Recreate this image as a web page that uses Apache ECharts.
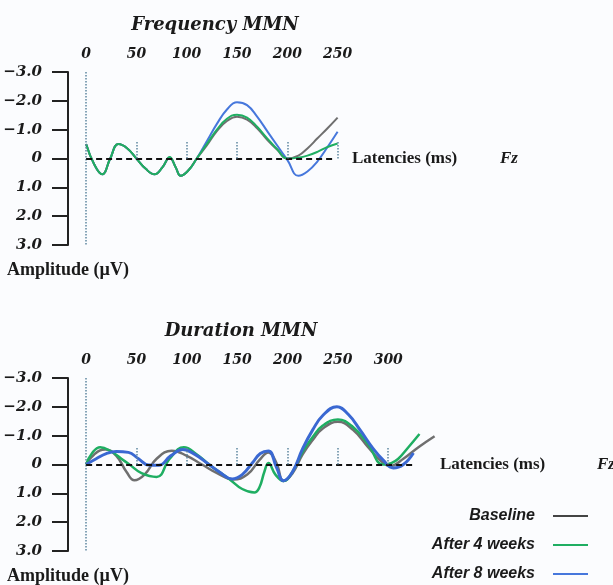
<!DOCTYPE html>
<html>
<head>
<meta charset="utf-8">
<script src="https://cdn.jsdelivr.net/npm/echarts@6/dist/echarts.min.js"></script>
<style>
  html, body { margin: 0; padding: 0; background: #fbfcfe; }
  #chart { width: 613px; height: 585px; }
</style>
</head>
<body>
<div id="chart"></div>
<script>
// 数据：振幅 (µV)，负值朝上
var seriesNames = ["Baseline", "After 4 weeks", "After 8 weeks"];
var freqLabels = [0, 50, 100, 150, 200, 250];
var durLabels = [0, 50, 100, 150, 200, 250, 300];
var tickTimesFreq = [50, 100, 150, 200, 250];
var tickTimesDur = [50, 100, 150, 200, 250, 300];

// Frequency MMN
var freqTimes = [0, 8, 16, 24, 32, 41, 50, 59, 68, 76, 83, 89, 94, 102, 110, 120, 130, 140, 150, 160, 170, 180, 190, 200, 211, 220, 230, 240, 250];
var freqBase  = [-0.5, 0.2, 0.55, 0.0, -0.5, -0.35, 0.0, 0.35, 0.55, 0.3, -0.03, 0.3, 0.6, 0.4, 0.0, -0.45, -0.95, -1.3, -1.45, -1.35, -1.05, -0.65, -0.3, 0.0, -0.1, -0.35, -0.7, -1.05, -1.42];
var freqW4    = [-0.5, 0.2, 0.55, 0.0, -0.5, -0.35, 0.0, 0.35, 0.55, 0.3, -0.05, 0.3, 0.6, 0.4, 0.0, -0.5, -1.0, -1.38, -1.52, -1.42, -1.1, -0.7, -0.32, 0.0, -0.03, -0.1, -0.23, -0.4, -0.52];
var freqW8    = [-0.5, 0.2, 0.55, 0.0, -0.5, -0.35, 0.0, 0.35, 0.55, 0.3, -0.03, 0.3, 0.6, 0.4, 0.0, -0.6, -1.2, -1.7, -1.95, -1.85, -1.45, -0.95, -0.45, 0.05, 0.6, 0.45, 0.1, -0.4, -0.93];

// Duration MMN
var durBaseT = [0, 8, 19, 30, 40, 48, 58, 70, 85, 100, 115, 130, 146, 160, 172, 181, 189, 196, 205, 215, 225, 235, 250, 265, 280, 292, 302, 315, 330, 346];
var durBaseV = [0, -0.35, -0.52, -0.3, 0.25, 0.55, 0.35, -0.2, -0.48, -0.3, 0.0, 0.3, 0.52, 0.35, -0.15, -0.42, -0.05, 0.57, 0.3, -0.35, -0.85, -1.25, -1.48, -1.2, -0.6, -0.15, 0.05, -0.2, -0.6, -0.98];
var durW4T = [0, 6, 14, 25, 35, 43, 55, 70, 83, 97, 110, 122, 142, 155, 167, 172, 177, 181, 188, 196, 205, 215, 225, 235, 250, 265, 280, 295, 303, 310, 320, 331];
var durW4V = [0, -0.4, -0.6, -0.45, -0.2, 0.0, 0.3, 0.43, -0.2, -0.6, -0.35, 0.0, 0.5, 0.85, 0.97, 0.8, 0.25, -0.05, 0.35, 0.57, 0.25, -0.45, -0.95, -1.35, -1.56, -1.3, -0.7, 0.0, -0.05, -0.2, -0.6, -1.06];
var durW8T = [0, 10, 20, 30, 42, 52, 62, 72, 84, 96, 108, 122, 132, 145, 155, 165, 173, 181, 189, 196, 205, 215, 225, 235, 249, 260, 272, 285, 295, 305, 315, 325];
var durW8V = [0, -0.2, -0.38, -0.45, -0.42, -0.2, 0.02, 0.03, -0.3, -0.52, -0.35, 0.0, 0.25, 0.5, 0.35, -0.05, -0.38, -0.47, 0.1, 0.56, 0.25, -0.55, -1.2, -1.7, -2.0, -1.75, -1.2, -0.55, -0.15, 0.12, 0.0, -0.4];

var colors = ["#6f6f6f", "#1fae62", "#4677dc"];
var legendColors = ["#444444", "#1fae62", "#4677dc"];
var serif = "Liberation Serif";
var wide = "DejaVu Serif";
var ink = "#1a1a1a";

function pairs(t, v) {
  return t.map(function (x, i) { return [x, v[i]]; });
}

function refLines(zeroEnd, ticks) {
  var data = [
    { xAxis: 0, lineStyle: { color: "#5f86a0", type: "dotted", width: 1.5 } },
    [
      { coord: [0, 0], lineStyle: { color: "#111", type: [6, 4], width: 2 } },
      { coord: [zeroEnd, 0] }
    ]
  ];
  ticks.forEach(function (t) {
    data.push([
      { coord: [t, 0], lineStyle: { color: "#5f86a0", type: "dotted", width: 1.5 } },
      { coord: [t, -0.6] }
    ]);
  });
  return { silent: true, symbol: ["none", "none"], label: { show: false }, data: data };
}

function xAxisCfg(idx, max, labels) {
  return {
    type: "value", gridIndex: idx, position: "top", min: -18, max: max,
    axisLine: { show: false, onZero: false }, axisTick: { show: false }, splitLine: { show: false },
    axisLabel: {
      customValues: labels, margin: 11, color: ink, fontFamily: wide,
      fontStyle: "italic", fontWeight: "bold", fontSize: 14
    }
  };
}

function yAxisCfg(idx) {
  return {
    type: "value", gridIndex: idx, min: -3, max: 3, interval: 1, inverse: true,
    name: "Amplitude (µV)", nameLocation: "end", nameGap: 16,
    nameTextStyle: { color: ink, fontFamily: serif, fontWeight: "bold", fontSize: 18 },
    axisLine: { show: true, onZero: false, lineStyle: { color: "#222", width: 2 } },
    axisTick: { show: true, length: 16, lineStyle: { color: "#222", width: 2 } },
    splitLine: { show: false },
    axisLabel: {
      margin: 26, color: ink, fontFamily: wide, fontStyle: "italic", fontWeight: "bold", fontSize: 15,
      formatter: function (v) { return v === 0 ? "0" : (v < 0 ? "−" : "") + Math.abs(v).toFixed(1); }
    }
  };
}

function lineSeries(name, idx, data, color, width, z, markLine) {
  var s = {
    name: name, type: "line", xAxisIndex: idx, yAxisIndex: idx, data: data,
    smooth: 0.45, showSymbol: false, symbol: "none", z: z,
    lineStyle: { color: color, width: width }, itemStyle: { color: color }
  };
  if (markLine) s.markLine = markLine;
  return s;
}

var myChart = echarts.init(document.getElementById("chart"));

var option = {
  backgroundColor: "#fbfcfe",
  animation: false,
  title: [
    { text: "Frequency MMN", left: 210, top: 11, textAlign: "center",
      textStyle: { fontFamily: wide, fontStyle: "italic", fontWeight: "bold", fontSize: 18, color: ink } },
    { text: "Duration MMN", left: 236, top: 317, textAlign: "center",
      textStyle: { fontFamily: wide, fontStyle: "italic", fontWeight: "bold", fontSize: 18, color: ink } }
  ],
  legend: {
    data: seriesNames.map(function (n, i) { return { name: n, itemStyle: { color: legendColors[i] } }; }),
    orient: "vertical", align: "right", right: 25, top: 508, padding: 0,
    itemWidth: 35, itemHeight: 2, itemGap: 13, icon: "rect",
    textStyle: { fontFamily: "Liberation Sans", fontStyle: "italic", fontWeight: "bold", fontSize: 16, color: ink, lineHeight: 16, padding: [0, 13, 0, 0] }
  },
  grid: [
    { left: 68, top: 72, width: 269.6, height: 173 },
    { left: 68, top: 378, width: 370.6, height: 173 }
  ],
  xAxis: [xAxisCfg(0, 250, freqLabels), xAxisCfg(1, 350, durLabels)],
  yAxis: [yAxisCfg(0), yAxisCfg(1)],
  graphic: [
    { type: "text", left: 352, top: 150, style: { text: "Latencies (ms)", font: "bold 17px Liberation Serif", fill: ink } },
    { type: "text", left: 500, top: 150, style: { text: "Fz", font: "italic bold 17px Liberation Serif", fill: ink } },
    { type: "text", left: 440, top: 456, style: { text: "Latencies (ms)", font: "bold 17px Liberation Serif", fill: ink } },
    { type: "text", left: 597, top: 456, style: { text: "Fz", font: "italic bold 17px Liberation Serif", fill: ink } }
  ],
  series: [
    lineSeries(seriesNames[2], 0, pairs(freqTimes, freqW8), colors[2], 2, 2),
    lineSeries(seriesNames[0], 0, pairs(freqTimes, freqBase), colors[0], 2, 3, refLines(245, tickTimesFreq)),
    lineSeries(seriesNames[1], 0, pairs(freqTimes, freqW4), colors[1], 2, 4),
    lineSeries(seriesNames[0], 1, pairs(durBaseT, durBaseV), colors[0], 2.5, 2, refLines(327, tickTimesDur)),
    lineSeries(seriesNames[1], 1, pairs(durW4T, durW4V), colors[1], 2.5, 3),
    lineSeries(seriesNames[2], 1, pairs(durW8T, durW8V), "#3a68d2", 3, 4)
  ]
};

myChart.setOption(option);
</script>
</body>
</html>
